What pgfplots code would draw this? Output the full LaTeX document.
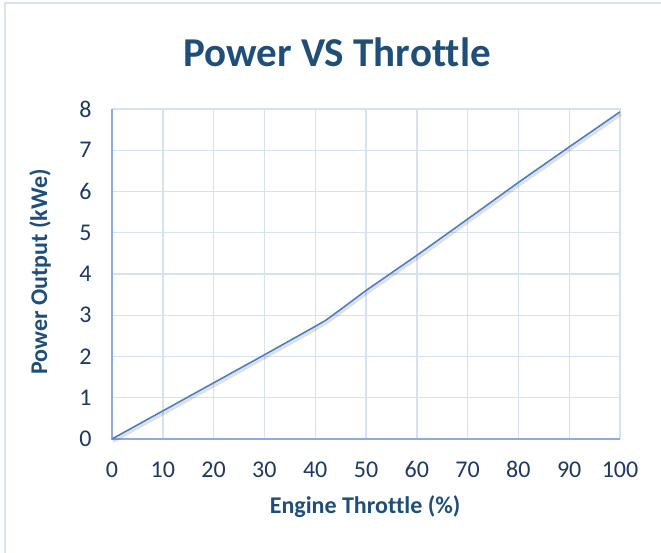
\documentclass[border=0pt]{standalone}
\usepackage{pgfplots}
\pgfplotsset{compat=1.18}
\usepackage{fontspec}
\setmainfont[Ligatures=NoCommon]{Carlito}
\definecolor{titleblue}{HTML}{1F4E79}
\definecolor{tickblue}{HTML}{1F3864}
\definecolor{gridblue}{HTML}{D6E2F3}
\definecolor{axisblue}{HTML}{8FAADC}
\definecolor{lineblue}{HTML}{4A7EBF}
\definecolor{borderblue}{HTML}{D9E2F1}
\begin{document}
\begin{tikzpicture}[x=1pt,y=1pt]
\fill[white] (0,0) rectangle (661,552);
\draw[borderblue, line width=1.5pt] (5,-10) -- (5,549) -- (680,549);
\node[font=\fontsize{41}{48}\selectfont\bfseries, text=titleblue] at (337,500) {Power VS Throttle};
\begin{axis}[
  at={(112pt,113pt)}, anchor=south west,
  scale only axis, width=508pt, height=330pt,
  xmin=0, xmax=100, ymin=0, ymax=8,
  xtick={0,10,...,100}, ytick={0,1,...,8},
  grid=major,
  major grid style={gridblue, line width=1.4pt},
  axis line style={draw=none},
  axis x line*=bottom, axis y line*=left,
  major tick length=0pt,
  /pgf/number format/assume math mode=true,
  tick label style={font=\fontsize{24}{28}\selectfont, text=tickblue},
  xticklabel style={yshift=-19pt},
  yticklabel style={xshift=-17pt},
  clip=false,
]
\addplot[gridblue, line width=1.4pt] coordinates {(0,8) (100,8) (100,0)};
\addplot[axisblue, line width=1.4pt] coordinates {(0,8) (0,0) (100,0)};
\addplot[black, opacity=0.12, line width=3pt, xshift=1pt, yshift=-2.5pt] coordinates {
(0,0) (10,0.68) (20,1.36) (30,2.04) (40,2.73) (42,2.87) (45,3.14) (50,3.6) (60,4.45) (70,5.33) (80,6.22) (90,7.08) (100,7.93)};
\addplot[lineblue, line width=1.6pt] coordinates {
(0,0) (10,0.68) (20,1.36) (30,2.04) (40,2.73) (42,2.87) (45,3.14) (50,3.6) (60,4.45) (70,5.33) (80,6.22) (90,7.08) (100,7.93)};
\end{axis}
\node[font=\fontsize{24}{28}\selectfont\bfseries, text=titleblue] at (365,45) {Engine Throttle (\%)};
\node[font=\fontsize{24}{28}\selectfont\bfseries, text=titleblue, rotate=90] at (40,280) {Power Output (kWe)};
\pgfresetboundingbox
\useasboundingbox (0,0) rectangle (661,552);
\end{tikzpicture}
\end{document}
